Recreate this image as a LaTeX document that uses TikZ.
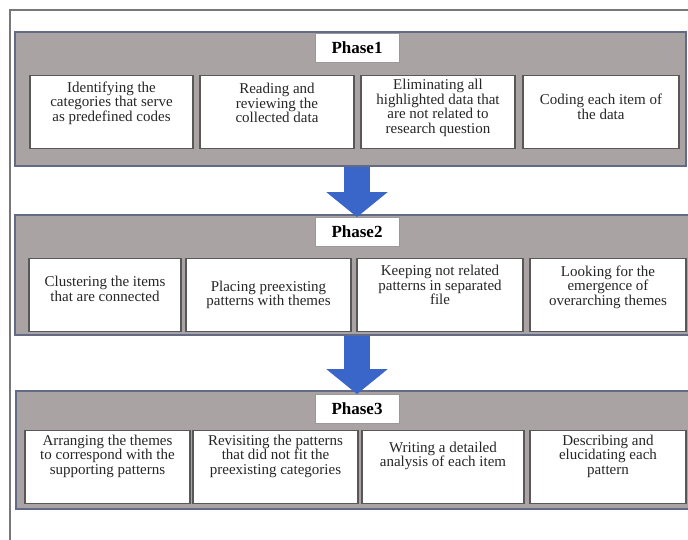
\documentclass[tikz,border=0pt]{standalone}
\usepackage{fontspec}
\setmainfont{Liberation Serif}
\usetikzlibrary{arrows.meta}
\definecolor{bandGray}{RGB}{169,163,163}
\definecolor{bandEdge}{RGB}{98,106,134}
\definecolor{cellEdge}{RGB}{88,88,88}
\definecolor{arrowBlue}{RGB}{58,102,201}
\definecolor{frameGray}{RGB}{120,120,120}

\begin{document}
\begin{tikzpicture}
[x=1pt,y=-1pt,%
  bandDecorate/.style={rectangle,draw=bandEdge,fill=bandGray,line width=1.5pt,inner sep=0pt},%
  phaseLabel/.style={rectangle,draw=gray!80,fill=white,line width=0.8pt,minimum width=84pt,minimum height=29pt,font=\fontsize{17}{17}\selectfont\bfseries},%
  cellDecorate/.style={rectangle,draw=cellEdge,fill=white,line width=1.4pt,inner xsep=3pt,inner ysep=0pt,align=flush center,text=black!85,font=\fontsize{15}{14.5}\selectfont,execute at end node={\endgraf\vspace*{#1}}},%
  cellDecorate/.default=10pt,%
  blockArrow/.style={arrowBlue,line width=26pt,-{Triangle[length=25pt,width=60pt]}}]
\useasboundingbox (0,0) rectangle (688,539);
\clip (0,0) rectangle (688,539);
%% outer frame
\draw[frameGray,line width=1.5pt] (10,545) -- (10,10) -- (695,10);
%% phase bands
\foreach \nodename/\x/\y/\bw/\bh in {band1/350.5/99/671/134, band2/352.5/275/675/120, band3/353/450/674/118}
{
  \node (\nodename) at (\x,\y) [bandDecorate,minimum width=\bw pt,minimum height=\bh pt] {};
}
%% phase labels
\foreach \nodename/\y/\txt in {lab1/48/Phase1, lab2/232/Phase2, lab3/409/Phase3}
{
  \node (\nodename) at (357,\y) [phaseLabel] {\txt};
}
%% arrows between phases
\draw[blockArrow] (band1.south -| lab2.north) -- (lab2.north);
\draw[blockArrow] (band2.south -| lab3.north) -- (lab3.north);
%% step cells
\foreach \nodename/\xl/\xr/\y/\txtlift/\txt in {
  p1a/30/193/112/18pt/{Identifying the\\categories that serve\\as predefined codes},
  p1b/200/354/112/18pt/{Reading and\\reviewing the\\collected data},
  p1c/361/515/112/8pt/{Eliminating all\\highlighted data that\\are not related to\\research question},
  p1d/523/679/112/10pt/{Coding each item of\\the data},
  p2a/29/181/295/12pt/{Clustering the items\\that are connected},
  p2b/186/351/295/0pt/{Placing preexisting\\patterns with themes},
  p2c/357/523/295/20pt/{Keeping not related\\patterns in separated\\file},
  p2d/530/686/295/16pt/{Looking for the\\emergence of\\overarching themes},
  p3a/25/190/467/22pt/{Arranging the themes\\to correspond with the\\supporting patterns},
  p3b/193/358/467/22pt/{Revisiting the patterns\\that did not fit the\\preexisting categories},
  p3c/362/524/467/22pt/{Writing a detailed\\analysis of each item},
  p3d/530/686/467/22pt/{Describing and\\elucidating each\\pattern}}
{
  \pgfmathsetmacro\cx{(\xl+\xr)/2}
  \pgfmathsetmacro\cw{\xr-\xl}
  \pgfmathsetmacro\tw{\xr-\xl-10}
  \node (\nodename) at (\cx,\y) [cellDecorate=\txtlift,minimum width=\cw pt,text width=\tw pt,minimum height=73pt] {\txt};
}
\end{tikzpicture}
\end{document}
